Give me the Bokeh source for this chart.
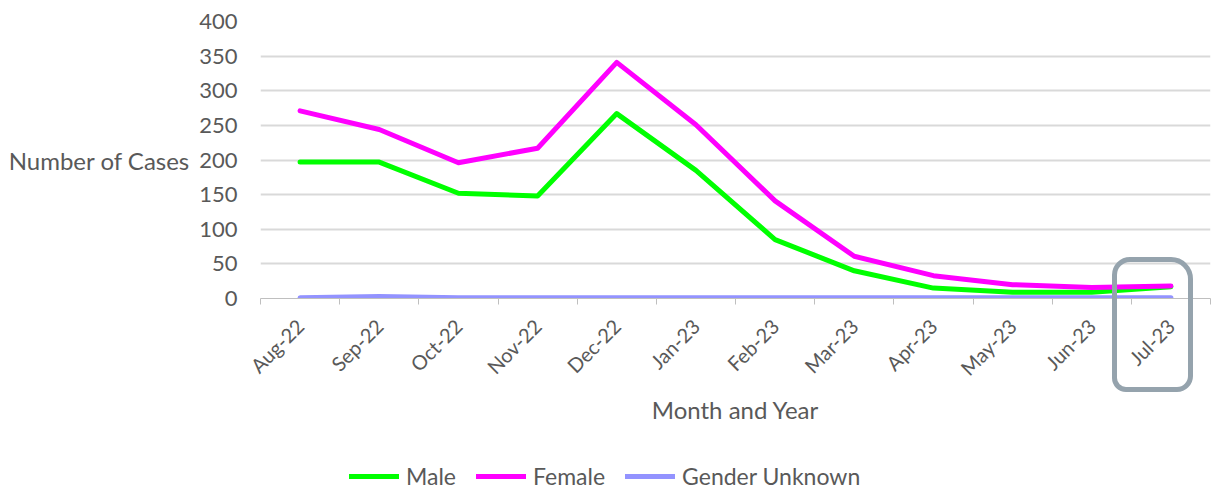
import numpy as np
from bokeh.plotting import figure
from bokeh.layouts import column
from bokeh.models import Range1d, FixedTicker, Legend, LegendItem, InlineStyleSheet
from bokeh.embed import file_html
from bokeh.resources import INLINE

months = ["Aug-22", "Sep-22", "Oct-22", "Nov-22", "Dec-22", "Jan-23",
          "Feb-23", "Mar-23", "Apr-23", "May-23", "Jun-23", "Jul-23"]
male = [197, 197, 152, 148, 267, 185, 85, 40, 15, 9, 9, 17]
female = [271, 244, 196, 217, 341, 251, 141, 61, 33, 20, 16, 18]
unknown = [1, 3, 1, 1, 1, 1, 1, 1, 1, 1, 1, 1]
y_ticks = [0, 50, 100, 150, 200, 250, 300, 350, 400]
series_names = ["Male", "Female", "Gender Unknown"]
series_colors = ["#00ff00", "#ff00ff", "#9393ff"]

FONT = "Lato"
TXT = "#595959"

# layout (pixels)
W, H1, H2 = 1220, 440, 50
F_LEFT, F_RIGHT, F_TOP, F_BOTTOM = 260, 1210, 21, 298

n = len(months)
xs = [i + 0.5 for i in range(n)]
Y_MAX = 400
series = [male, female, unknown]

# highlight box around the last month (in category / value units)
hl_x0, hl_x1 = n - 1.24, n - 0.22
hl_y1 = 59
hl_below_px = 94   # extent below the zero line, in px

p = figure(width=W, height=H1, output_backend="svg", toolbar_location=None,
           x_range=Range1d(0, n), y_range=Range1d(0, Y_MAX),
           min_border_left=F_LEFT, min_border_right=W - F_RIGHT,
           min_border_top=F_TOP, min_border_bottom=H1 - F_BOTTOM)
p.outline_line_color = None
p.background_fill_color = "white"
p.border_fill_color = "white"

for vals, col in zip(series, series_colors):
    p.line(xs, vals, line_color=col, line_width=5, line_cap="round", line_join="round")

# x axis
p.xaxis.ticker = FixedTicker(ticks=xs, minor_ticks=list(range(n + 1)))
p.xaxis.major_label_overrides = {x: m for x, m in zip(xs, months)}
p.xaxis.major_label_orientation = np.pi / 4
p.xaxis.major_tick_out = 0
p.xaxis.major_tick_in = 0
p.xaxis.minor_tick_out = 6
p.xaxis.minor_tick_in = 0
p.xaxis.minor_tick_line_color = "#bfbfbf"
p.xaxis.axis_line_color = "#bfbfbf"
p.xaxis.major_label_text_font = FONT
p.xaxis.major_label_text_font_size = "20px"
p.xaxis.major_label_text_color = TXT
p.xaxis.major_label_standoff = 18
p.xaxis.axis_label = "Month and Year"
p.xaxis.axis_label_text_font = FONT
p.xaxis.axis_label_text_font_size = "24px"
p.xaxis.axis_label_text_font_style = "normal"
p.xaxis.axis_label_text_color = TXT
p.xaxis.axis_label_standoff = 4

# y axis
p.yaxis.ticker = FixedTicker(ticks=y_ticks)
p.yaxis.axis_line_color = None
p.yaxis.major_tick_line_color = None
p.yaxis.minor_tick_line_color = None
p.yaxis.major_label_text_font = FONT
p.yaxis.major_label_text_font_size = "22px"
p.yaxis.major_label_text_color = TXT
p.yaxis.major_label_standoff = 17
p.yaxis.axis_label = "Number of Cases"
p.yaxis.axis_label_orientation = "horizontal"
p.yaxis.axis_label_text_font = FONT
p.yaxis.axis_label_text_font_size = "24px"
p.yaxis.axis_label_text_font_style = "normal"
p.yaxis.axis_label_text_color = TXT
p.yaxis.axis_label_standoff = 6

p.xgrid.grid_line_color = None
p.ygrid.grid_line_color = "#d9d9d9"
p.ygrid.grid_line_width = 2

# hand-drawn style highlight, positioned from the plot scales
cw = (F_RIGHT - F_LEFT) / n
py = (F_BOTTOM - F_TOP) / Y_MAX
bx0 = F_LEFT + hl_x0 * cw
bx1 = F_LEFT + hl_x1 * cw
by0 = F_BOTTOM - hl_y1 * py
by1 = F_BOTTOM + hl_below_px
css = (":host { position: relative; }\n"
       f":host::after {{ content: ''; position: absolute; left: {bx0:.0f}px; top: {by0:.0f}px; "
       f"width: {bx1 - bx0:.0f}px; height: {by1 - by0:.0f}px; box-sizing: border-box; "
       "border: 5px solid #95a3ad; border-radius: 18px 22px 16px 14px; pointer-events: none; }")
p.stylesheets = [InlineStyleSheet(css=css)]

# legend strip below the chart (same series, drawn outside its visible range)
p2 = figure(width=W, height=H2, output_backend="svg", toolbar_location=None,
            x_range=Range1d(0, n), y_range=Range1d(-2 * Y_MAX, -Y_MAX),
            x_axis_type=None, y_axis_type=None,
            min_border_left=0, min_border_right=0, min_border_top=0, min_border_bottom=0)
p2.outline_line_color = None
p2.grid.visible = False
items = []
for vals, col, name in zip(series, series_colors, series_names):
    r = p2.line(xs, vals, line_color=col, line_width=5, line_cap="round")
    items.append(LegendItem(label=name, renderers=[r]))

# the column aligns this strip's frame with the chart frame (left edge at F_LEFT)
legend = Legend(items=items, orientation="horizontal", location=(89, 0),
                glyph_width=50, glyph_height=24, label_standoff=7, spacing=20,
                padding=0, margin=0, border_line_color=None,
                background_fill_alpha=0,
                label_text_font=FONT, label_text_font_size="23px",
                label_text_color=TXT)
p2.add_layout(legend, "center")

layout = column(p, p2, spacing=0)
open("out.html", "w").write(file_html(layout, INLINE))
